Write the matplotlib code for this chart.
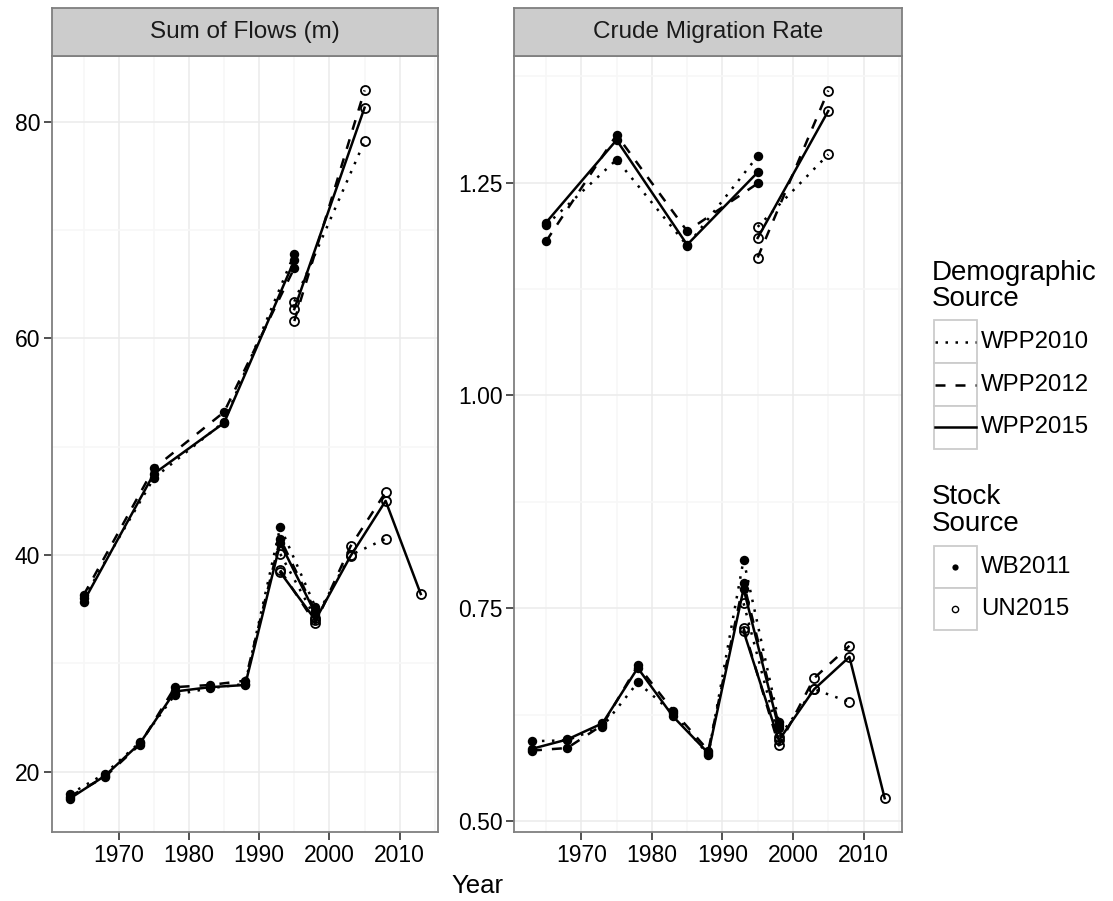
import matplotlib
matplotlib.use('Agg')
import matplotlib.pyplot as plt
from matplotlib.patches import Rectangle
from matplotlib.lines import Line2D

plt.rcParams['font.family'] = ['Liberation Sans', 'DejaVu Sans']

# Data
sources = ['WPP2010', 'WPP2012', 'WPP2015']
stocks = ['WB2011', 'UN2015']
panel_titles = ['Sum of Flows (m)', 'Crude Migration Rate']

years_5y_wb = [1963, 1968, 1973, 1978, 1983, 1988, 1993, 1998]
years_5y_un = [1993, 1998, 2003, 2008, 2013]
years_10y_wb = [1965, 1975, 1985, 1995]
years_10y_un = [1995, 2005]

# Sum of flows (millions), one row per demographic source
flow_5y_wb = [[17.9, 19.8, 22.7, 27.1, 27.7, 28.1, 42.6, 35.2],
              [17.7, 19.5, 22.5, 27.8, 28.0, 28.4, 41.5, 34.8],
              [17.5, 19.6, 22.6, 27.4, 27.8, 28.0, 41.1, 34.6]]
flow_5y_un = [[40.1, 34.2, 40.0, 41.5],
              [38.6, 33.7, 40.8, 45.8],
              [38.4, 34.0, 39.9, 45.0, 36.4]]
flow_10y_wb = [[36.0, 47.1, 52.3, 67.8],
               [36.3, 48.0, 53.2, 66.5],
               [35.7, 47.5, 52.2, 67.2]]
flow_10y_un = [[63.4, 78.2],
               [61.6, 82.9],
               [62.7, 81.3]]

# Crude migration rate
cmr_5y_wb = [[0.594, 0.595, 0.611, 0.663, 0.627, 0.578, 0.807, 0.617],
             [0.583, 0.586, 0.613, 0.683, 0.630, 0.583, 0.780, 0.613],
             [0.585, 0.596, 0.615, 0.680, 0.623, 0.580, 0.773, 0.609]]
cmr_5y_un = [[0.756, 0.599, 0.655, 0.640],
             [0.727, 0.589, 0.668, 0.706],
             [0.723, 0.595, 0.655, 0.693, 0.527]]
cmr_10y_wb = [[1.200, 1.277, 1.176, 1.281],
              [1.181, 1.306, 1.193, 1.249],
              [1.203, 1.300, 1.177, 1.262]]
cmr_10y_un = [[1.198, 1.283],
              [1.162, 1.358],
              [1.185, 1.334]]

x_ticks = [1970, 1980, 1990, 2000, 2010]
y_ticks = [[20, 40, 60, 80], [0.50, 0.75, 1.00, 1.25]]
y_ticklabels = [['20', '40', '60', '80'], ['0.50', '0.75', '1.00', '1.25']]
y_minor = [[30, 50, 70], [0.625, 0.875, 1.125, 1.375]]
y_lims = [(14.4, 86.1), (0.487, 1.399)]

# styles
dash_styles = [(0, (1, 3)), (0, (4, 4)), 'solid']
LW = 1.8
TICK_TXT = 16.5
STRIP_TXT = 17.5
LEG_TXT = 17.3
LEG_TITLE = 20
AXIS_TITLE = 18.5

W, H = 1113, 901
fig = plt.figure(figsize=(W / 100, H / 100), dpi=100)


def px_axes(x0, y0, x1, y1):
    return fig.add_axes([x0 / W, 1 - y1 / H, (x1 - x0) / W, (y1 - y0) / H])


panels = [(52, 438.3), (514.3, 902.3)]
panel_top, panel_bot, strip_top = 55.7, 832.3, 8.3

panel_data = [(flow_5y_wb, flow_5y_un, flow_10y_wb, flow_10y_un),
              (cmr_5y_wb, cmr_5y_un, cmr_10y_wb, cmr_10y_un)]

for p, (x0, x1) in enumerate(panels):
    ax = px_axes(x0, panel_top, x1, panel_bot)
    d5wb, d5un, d10wb, d10un = panel_data[p]
    for i in range(3):
        for yrs, vals, filled in [(years_10y_wb, d10wb[i], True),
                                  (years_10y_un, d10un[i], False),
                                  (years_5y_wb, d5wb[i], True),
                                  (years_5y_un, d5un[i], False)]:
            xs = yrs[:len(vals)]
            ax.plot(xs, vals, color='black', lw=LW, linestyle=dash_styles[i],
                    zorder=3)
            if filled:
                ax.plot(xs, vals, 'o', color='black', ms=6.8, mew=0, zorder=4)
            else:
                ax.plot(xs, vals, 'o', mfc='none', mec='black', ms=6.5,
                        mew=1.3, zorder=4)

    ax.set_xlim(1960.5, 2015.5)
    ax.set_ylim(*y_lims[p])
    ax.set_xticks(x_ticks)
    ax.set_xticks([1965, 1975, 1985, 1995, 2005, 2015], minor=True)
    ax.set_yticks(y_ticks[p])
    ax.set_yticklabels(y_ticklabels[p])
    ax.set_yticks(y_minor[p], minor=True)
    ax.grid(which='major', color='#EBEBEB', lw=1.1, zorder=0)
    ax.grid(which='minor', color='#F7F7F7', lw=1.1, zorder=0)
    ax.set_axisbelow(True)
    ax.tick_params(which='major', length=6, width=1.2, color='#333333',
                   labelsize=TICK_TXT, labelcolor='black')
    ax.tick_params(axis='x', pad=2.5)
    ax.tick_params(axis='y', pad=2.4)
    ax.tick_params(which='minor', length=0)
    for s in ax.spines.values():
        s.set_color('#7F7F7F')
        s.set_linewidth(1.3)

    # facet strip
    st = px_axes(x0, strip_top, x1, panel_top)
    st.set_facecolor('#CCCCCC')
    st.set_xticks([])
    st.set_yticks([])
    for s in st.spines.values():
        s.set_color('#7F7F7F')
        s.set_linewidth(1.3)
    st.text(0.5, 0.5, panel_titles[p], ha='center', va='center',
            fontsize=STRIP_TXT, color='#1A1A1A', transform=st.transAxes)

fig.text(477.5 / W, 1 - 886 / H, 'Year', ha='center', va='center',
         fontsize=AXIS_TITLE)

# legend drawn in pixel coordinates
lg = fig.add_axes([0, 0, 1, 1])
lg.set_xlim(0, W)
lg.set_ylim(H, 0)
lg.axis('off')

lg.text(932, 280.5, 'Demographic', ha='left', va='baseline', fontsize=LEG_TITLE)
lg.text(932, 305.5, 'Source', ha='left', va='baseline', fontsize=LEG_TITLE)
rows = [(320, 363.3), (363.3, 406), (406, 448.5)]
for i, (r0, r1) in enumerate(rows):
    lg.add_patch(Rectangle((933.5, r0), 43.5, r1 - r0, fc='white',
                           ec='#CCCCCC', lw=1.3))
    yc = (r0 + r1) / 2
    lg.add_line(Line2D([935, 975.5], [yc, yc], color='black', lw=LW,
                       linestyle=dash_styles[i]))
    lg.text(981, yc, sources[i], ha='left', va='center', fontsize=LEG_TXT)

lg.text(932, 504, 'Stock', ha='left', va='baseline', fontsize=LEG_TITLE)
lg.text(932, 531, 'Source', ha='left', va='baseline', fontsize=LEG_TITLE)
rows = [(546, 588), (588, 630)]
for i, (r0, r1) in enumerate(rows):
    lg.add_patch(Rectangle((933.5, r0), 43.5, r1 - r0, fc='white',
                           ec='#CCCCCC', lw=1.3))
    yc = (r0 + r1) / 2
    if i == 0:
        lg.plot([955], [yc], 'o', color='black', ms=4.5, mew=0)
    else:
        lg.plot([955], [yc], 'o', mfc='none', mec='black', ms=4.5, mew=1.0)
    lg.text(981, yc, stocks[i], ha='left', va='center', fontsize=LEG_TXT)

plt.savefig('out.png', dpi=100)
